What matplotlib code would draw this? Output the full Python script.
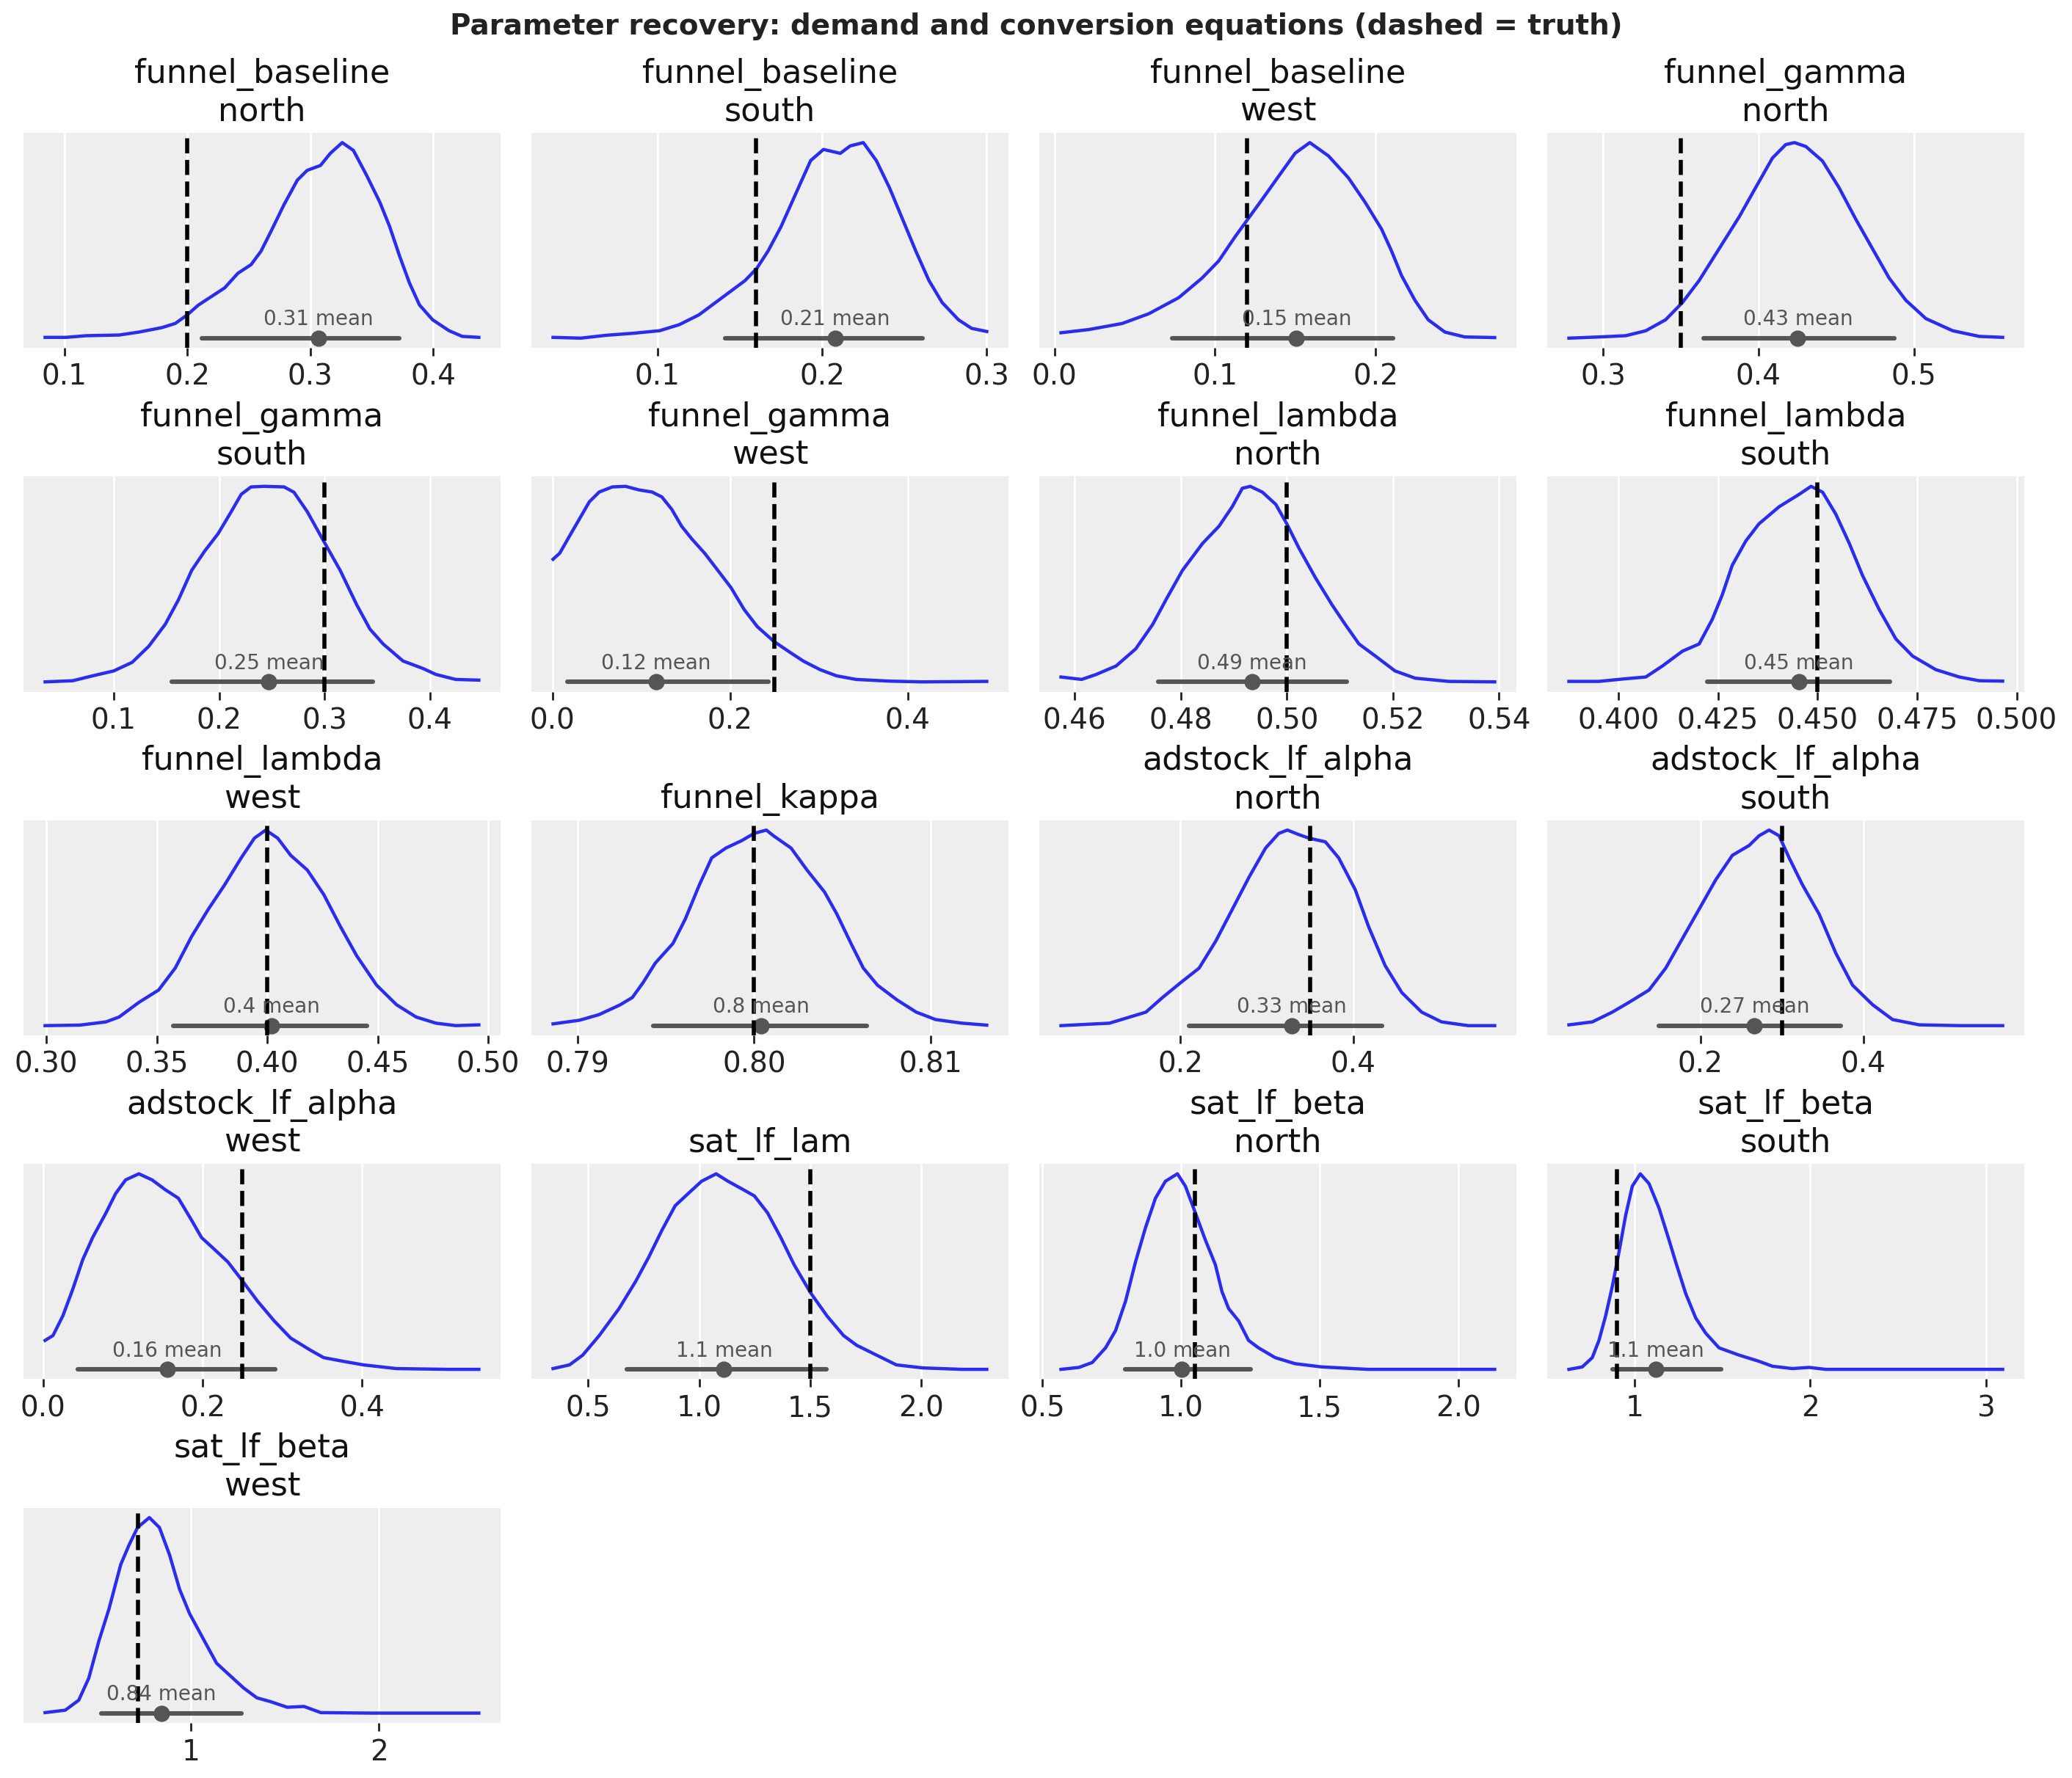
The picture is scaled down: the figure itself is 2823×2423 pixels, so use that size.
import matplotlib
matplotlib.use("Agg")
import matplotlib.pyplot as plt
import numpy as np

# panel titles, true values, posterior means and 94% intervals
titles = ["funnel_baseline\nnorth", "funnel_baseline\nsouth", "funnel_baseline\nwest",
          "funnel_gamma\nnorth", "funnel_gamma\nsouth", "funnel_gamma\nwest",
          "funnel_lambda\nnorth", "funnel_lambda\nsouth", "funnel_lambda\nwest",
          "funnel_kappa", "adstock_lf_alpha\nnorth", "adstock_lf_alpha\nsouth",
          "adstock_lf_alpha\nwest", "sat_lf_lam", "sat_lf_beta\nnorth",
          "sat_lf_beta\nsouth", "sat_lf_beta\nwest"]
truth = [0.20, 0.16, 0.12, 0.35, 0.30, 0.25, 0.50, 0.45, 0.40, 0.80,
         0.35, 0.30, 0.25, 1.50, 1.05, 0.90, 0.72]
means = [0.3067, 0.2078, 0.1507, 0.4253, 0.2472, 0.1165, 0.4934, 0.4454, 0.4018, 0.8004,
         0.3285, 0.2664, 0.1557, 1.112, 1.004, 1.1214, 0.8446]
mean_labels = ["0.31", "0.21", "0.15", "0.43", "0.25", "0.12", "0.49", "0.45", "0.4", "0.8",
               "0.33", "0.27", "0.16", "1.1", "1.0", "1.1", "0.84"]
hdi_lo = [0.2118, 0.1411, 0.0733, 0.3648, 0.1551, 0.0171, 0.4757, 0.4224, 0.3574, 0.7943,
          0.210, 0.1492, 0.0431, 0.6753, 0.800, 0.8748, 0.525]
hdi_hi = [0.3727, 0.2609, 0.2108, 0.4876, 0.3461, 0.2434, 0.5113, 0.4683, 0.4450, 0.8064,
          0.433, 0.3721, 0.2915, 1.5725, 1.2512, 1.4934, 1.2679]
ticks = [[0.1, 0.2, 0.3, 0.4], [0.1, 0.2, 0.3], [0.0, 0.1, 0.2], [0.3, 0.4, 0.5],
         [0.1, 0.2, 0.3, 0.4], [0.0, 0.2, 0.4], [0.46, 0.48, 0.50, 0.52, 0.54],
         [0.400, 0.425, 0.450, 0.475, 0.500], [0.30, 0.35, 0.40, 0.45, 0.50],
         [0.79, 0.80, 0.81], [0.2, 0.4], [0.2, 0.4], [0.0, 0.2, 0.4],
         [0.5, 1.0, 1.5, 2.0], [0.5, 1.0, 1.5, 2.0], [1, 2, 3], [1, 2]]
tick_fmt = ["%.1f", "%.1f", "%.1f", "%.1f", "%.1f", "%.1f", "%.2f", "%.3f", "%.2f", "%.2f",
            "%.1f", "%.1f", "%.1f", "%.1f", "%.1f", "%d", "%d"]

# KDE curves (x, relative density)
bn_x = [0.0844, 0.1016, 0.1177, 0.1446, 0.1607, 0.1794, 0.1902, 0.2, 0.209, 0.2197, 0.2304,
        0.2412, 0.2519, 0.26, 0.268, 0.2787, 0.2895, 0.2975, 0.3083, 0.3163, 0.326, 0.3351,
        0.3458, 0.3566, 0.3646, 0.3727, 0.3807, 0.3888, 0.3995, 0.4129, 0.4236, 0.4371]
bn_y = [0.004, 0.004, 0.0125, 0.016, 0.031, 0.054, 0.075, 0.119, 0.169, 0.213, 0.257,
        0.332, 0.376, 0.445, 0.545, 0.683, 0.808, 0.858, 0.883, 0.945, 1.0, 0.96,
        0.833, 0.695, 0.570, 0.419, 0.282, 0.170, 0.094, 0.038, 0.009, 0.004]
bs_x = [0.0365, 0.0533, 0.0693, 0.0852, 0.1012, 0.1132, 0.1251, 0.1411, 0.1531, 0.1603,
        0.1671, 0.1750, 0.1810, 0.1870, 0.1930, 0.2008, 0.2110, 0.2170, 0.2250, 0.2329,
        0.2409, 0.2489, 0.2569, 0.2649, 0.2729, 0.2828, 0.2908, 0.3000]
bs_y = [0.004, 0.0, 0.015, 0.025, 0.038, 0.069, 0.119, 0.219, 0.294, 0.357,
        0.445, 0.570, 0.683, 0.796, 0.908, 0.965, 0.945, 0.983, 1.0, 0.908,
        0.769, 0.607, 0.445, 0.294, 0.182, 0.094, 0.05, 0.034]
bw_x = [0.0041, 0.0215, 0.0422, 0.0588, 0.0774, 0.0919, 0.1023, 0.1126, 0.1209, 0.1292,
        0.1395, 0.1499, 0.1590, 0.1706, 0.1830, 0.1934, 0.2037, 0.2099, 0.2161, 0.2244,
        0.2327, 0.2431, 0.2555, 0.2741]
bw_y = [0.0276, 0.044, 0.075, 0.125, 0.207, 0.307, 0.395, 0.52, 0.614, 0.708,
        0.827, 0.946, 1.0, 0.932, 0.82, 0.695, 0.557, 0.445, 0.32, 0.194,
        0.094, 0.031, 0.006, 0.003]
gn_x = [0.2781, 0.2974, 0.3146, 0.3275, 0.3403, 0.3511, 0.3618, 0.3747, 0.3876, 0.3983,
        0.4090, 0.4176, 0.4232, 0.4305, 0.4412, 0.4519, 0.4627, 0.4734, 0.4841, 0.4948,
        0.5077, 0.5249, 0.5421, 0.5571]
gn_y = [0.0, 0.006, 0.0125, 0.0376, 0.094, 0.182, 0.294, 0.457, 0.620, 0.771,
        0.921, 0.99, 1.0, 0.98, 0.906, 0.769, 0.607, 0.457, 0.307, 0.194,
        0.100, 0.038, 0.009, 0.004]
gs_x = [0.0349, 0.0612, 0.0800, 0.1, 0.1175, 0.1332, 0.1488, 0.1614, 0.1739, 0.1864,
        0.1990, 0.2115, 0.2209, 0.2302, 0.2428, 0.2616, 0.2709, 0.2835, 0.2991, 0.3148,
        0.3304, 0.3430, 0.3555, 0.3743, 0.3931, 0.4056, 0.4244, 0.4463]
gs_y = [0.0, 0.006, 0.031, 0.056, 0.1, 0.182, 0.294, 0.42, 0.570, 0.670,
        0.758, 0.871, 0.959, 0.997, 1.0, 0.997, 0.97, 0.871, 0.72, 0.570,
        0.395, 0.27, 0.194, 0.107, 0.069, 0.038, 0.0125, 0.009]
gw_x = [0.0007, 0.0082, 0.0193, 0.0304, 0.0416, 0.0527, 0.0675, 0.0824, 0.0972, 0.1121,
        0.1232, 0.1343, 0.1455, 0.1566, 0.1714, 0.1863, 0.2011, 0.2159, 0.2308, 0.2494,
        0.2679, 0.2827, 0.3013, 0.3199, 0.3421, 0.3792, 0.4163, 0.4891]
gw_y = [0.627, 0.658, 0.746, 0.833, 0.921, 0.971, 0.997, 1.0, 0.982, 0.971,
        0.946, 0.883, 0.796, 0.733, 0.658, 0.570, 0.482, 0.370, 0.282, 0.207,
        0.150, 0.106, 0.0627, 0.031, 0.0125, 0.004, 0.0, 0.0025]
ln_x = [0.4574, 0.4613, 0.4640, 0.4678, 0.4715, 0.4747, 0.4772, 0.4803, 0.4841, 0.4872,
        0.4897, 0.4916, 0.4931, 0.4954, 0.4979, 0.5000, 0.5023, 0.5054, 0.5085, 0.5110,
        0.5136, 0.5167, 0.5204, 0.5242, 0.5305, 0.5392]
ln_y = [0.025, 0.0125, 0.0376, 0.0815, 0.169, 0.294, 0.42, 0.570, 0.708, 0.796,
        0.896, 0.99, 1.0, 0.97, 0.908, 0.808, 0.683, 0.532, 0.395, 0.294,
        0.194, 0.132, 0.056, 0.019, 0.0025, 0.0]
ls_x = [0.3876, 0.3951, 0.4018, 0.4069, 0.4111, 0.4161, 0.4203, 0.4236, 0.4261, 0.4286,
        0.4320, 0.4353, 0.4404, 0.4454, 0.4484, 0.4513, 0.4546, 0.4580, 0.4613, 0.4655,
        0.4697, 0.4739, 0.4797, 0.4856, 0.4906, 0.4965]
ls_y = [0.0025, 0.0025, 0.016, 0.025, 0.0815, 0.157, 0.194, 0.320, 0.445, 0.596,
        0.72, 0.808, 0.896, 0.959, 1.0, 0.97, 0.858, 0.708, 0.545, 0.370,
        0.219, 0.132, 0.0627, 0.025, 0.006, 0.004]
lw_x = [0.2994, 0.3150, 0.3269, 0.3329, 0.3419, 0.3508, 0.3583, 0.3658, 0.3733, 0.3807,
        0.3882, 0.3942, 0.3993, 0.4047, 0.4106, 0.4181, 0.4256, 0.4331, 0.4405, 0.4495,
        0.4585, 0.4674, 0.4764, 0.4854, 0.4958]
lw_y = [0.0, 0.0025, 0.019, 0.044, 0.119, 0.182, 0.294, 0.457, 0.595, 0.72,
        0.858, 0.959, 1.0, 0.959, 0.871, 0.796, 0.67, 0.507, 0.357, 0.207,
        0.107, 0.044, 0.0125, 0.0, 0.004]
kap_x = [0.7886, 0.7901, 0.7912, 0.7924, 0.7931, 0.7937, 0.7944, 0.7954, 0.7961, 0.7969,
         0.7976, 0.7984, 0.7993, 0.8000, 0.8007, 0.8011, 0.8021, 0.8030, 0.8040, 0.8047,
         0.8055, 0.8062, 0.8070, 0.8081, 0.8092, 0.8103, 0.8118, 0.8132]
kap_y = [0.009, 0.0276, 0.056, 0.106, 0.144, 0.219, 0.320, 0.42, 0.545, 0.72,
         0.858, 0.908, 0.946, 0.983, 1.0, 0.971, 0.908, 0.796, 0.683, 0.570,
         0.42, 0.294, 0.207, 0.132, 0.069, 0.031, 0.0125, 0.0025]
an_x = [0.0616, 0.1177, 0.1600, 0.1792, 0.2, 0.2215, 0.2408, 0.2600, 0.2792, 0.2985,
        0.3138, 0.3238, 0.3369, 0.3485, 0.3677, 0.3831, 0.4023, 0.4177, 0.4369, 0.4562,
        0.4792, 0.5023, 0.5330, 0.5638]
an_y = [0.0, 0.0125, 0.069, 0.144, 0.219, 0.294, 0.432, 0.595, 0.758, 0.908,
        0.983, 1.0, 0.977, 0.959, 0.940, 0.858, 0.695, 0.507, 0.307, 0.169,
        0.069, 0.019, 0.0, 0.0]
as_x = [0.0385, 0.0672, 0.0918, 0.1123, 0.1369, 0.1574, 0.1779, 0.1984, 0.2189, 0.2393,
        0.2598, 0.2721, 0.2844, 0.2967, 0.3090, 0.3254, 0.3459, 0.3664, 0.3869, 0.4115,
        0.4361, 0.4689, 0.5180, 0.5713]
as_y = [0.004, 0.019, 0.069, 0.119, 0.182, 0.294, 0.445, 0.595, 0.746, 0.871,
        0.921, 0.971, 1.0, 0.971, 0.858, 0.72, 0.570, 0.370, 0.207, 0.107,
        0.031, 0.004, 0.0, 0.0]
aw_x = [0.0025, 0.0124, 0.0248, 0.0373, 0.0497, 0.0621, 0.0787, 0.0911, 0.1035, 0.1201,
        0.1366, 0.1532, 0.1697, 0.1863, 0.1987, 0.2153, 0.2318, 0.2484, 0.2691, 0.2898,
        0.3105, 0.3353, 0.3519, 0.3767, 0.4016, 0.4430, 0.5092, 0.5465]
aw_y = [0.148, 0.173, 0.274, 0.411, 0.561, 0.674, 0.799, 0.90, 0.969, 1.0,
        0.969, 0.919, 0.875, 0.762, 0.674, 0.612, 0.549, 0.461, 0.348, 0.248,
        0.160, 0.098, 0.060, 0.041, 0.023, 0.004, 0.0, 0.0]
lam_x = [0.3425, 0.4168, 0.4762, 0.5505, 0.6396, 0.7139, 0.7733, 0.8328, 0.8922, 0.9516,
         1.0110, 1.0764, 1.1299, 1.1893, 1.2487, 1.3081, 1.3675, 1.4270, 1.5012, 1.5755,
         1.6498, 1.7092, 1.7983, 1.8875, 2.0063, 2.1845, 2.2945]
lam_y = [0.004, 0.023, 0.073, 0.173, 0.311, 0.449, 0.574, 0.712, 0.837, 0.90,
         0.962, 1.0, 0.962, 0.925, 0.887, 0.80, 0.674, 0.536, 0.392, 0.273,
         0.173, 0.123, 0.073, 0.023, 0.0075, 0.0, 0.0]
btn_x = [0.5672, 0.6320, 0.6800, 0.7280, 0.7640, 0.8000, 0.8360, 0.8720, 0.9080, 0.9440,
         0.9872, 1.0160, 1.0520, 1.0880, 1.1240, 1.1480, 1.1720, 1.2080, 1.2440, 1.2800,
         1.3400, 1.4120, 1.5080, 1.6760, 1.9160, 2.1320]
btn_y = [0.0, 0.010, 0.035, 0.110, 0.198, 0.348, 0.549, 0.724, 0.875, 0.962,
         1.0, 0.937, 0.80, 0.662, 0.536, 0.398, 0.311, 0.248, 0.148, 0.110,
         0.060, 0.029, 0.0125, 0.0, 0.0, 0.0]
bts_x = [0.6281, 0.7040, 0.7609, 0.7989, 0.8368, 0.8748, 0.9127, 0.9507, 0.9886, 1.0342,
         1.0835, 1.1404, 1.1973, 1.2353, 1.2922, 1.3491, 1.4061, 1.4820, 1.5958, 1.7097,
         1.7856, 1.8994, 1.9943, 2.0892, 2.4687, 3.0948]
bts_y = [0.0, 0.0125, 0.060, 0.148, 0.273, 0.424, 0.599, 0.787, 0.937, 1.0,
         0.950, 0.825, 0.662, 0.549, 0.388, 0.263, 0.185, 0.110, 0.073, 0.041,
         0.016, 0.004, 0.010, 0.0, 0.0, 0.0]
btw_x = [0.2268, 0.3339, 0.4054, 0.4589, 0.5125, 0.5661, 0.6286, 0.6732, 0.7179, 0.7804,
         0.8339, 0.8875, 0.9411, 0.9946, 1.0661, 1.1375, 1.2089, 1.2804, 1.3518, 1.4232,
         1.5125, 1.6018, 1.6911, 1.9589, 2.3161, 2.5304]
btw_y = [0.0025, 0.015, 0.066, 0.179, 0.369, 0.533, 0.76, 0.861, 0.949, 1.0,
         0.949, 0.81, 0.633, 0.508, 0.381, 0.255, 0.192, 0.129, 0.078, 0.059,
         0.030, 0.034, 0.0025, 0.0, 0.0, 0.0]

curves = [(bn_x, bn_y), (bs_x, bs_y), (bw_x, bw_y), (gn_x, gn_y), (gs_x, gs_y),
          (gw_x, gw_y), (ln_x, ln_y), (ls_x, ls_y), (lw_x, lw_y), (kap_x, kap_y),
          (an_x, an_y), (as_x, as_y), (aw_x, aw_y), (lam_x, lam_y), (btn_x, btn_y),
          (bts_x, bts_y), (btw_x, btw_y)]

blue = "#2a2eec"
gray = "#555555"

fig, axes = plt.subplots(5, 4, figsize=(14.115, 12.115), dpi=200)
fig.subplots_adjust(left=0.0113, right=0.977, top=0.9253, bottom=0.031,
                    wspace=0.0646, hspace=0.598)
axes = axes.ravel()

for i, ax in enumerate(axes):
    if i >= len(titles):
        ax.remove()
        continue
    cx, cy = curves[i]
    ax.set_facecolor("#eeeeee")
    for s in ax.spines.values():
        s.set_visible(False)
    ax.grid(axis="x", color="white", linewidth=1.0)
    ax.set_axisbelow(True)
    ax.plot(cx, cy, color=blue, linewidth=1.6, solid_joinstyle="round")
    ax.plot([hdi_lo[i], hdi_hi[i]], [0, 0], color=gray, linewidth=2.2,
            solid_capstyle="round")
    ax.plot([means[i]], [0], "o", color=gray, markersize=7)
    ax.text(means[i], 0.065, mean_labels[i] + " mean", color=gray, fontsize=10,
            ha="center", va="baseline")
    ax.axvline(truth[i], color="black", linestyle="--", linewidth=2)
    ax.set_xticks(ticks[i])
    ax.set_xticklabels([tick_fmt[i] % t for t in ticks[i]])
    ax.set_yticks([])
    ax.tick_params(axis="x", labelsize=14, length=4, width=1, color="#222222",
                   labelcolor="#222222")
    ax.set_title(titles[i], fontsize=16, color="#111111")

fig.suptitle("Parameter recovery: demand and conversion equations (dashed = truth)",
             fontsize=14, fontweight="bold", color="#222222", y=0.993, va="top")

fig.savefig("out.png", dpi=200)
